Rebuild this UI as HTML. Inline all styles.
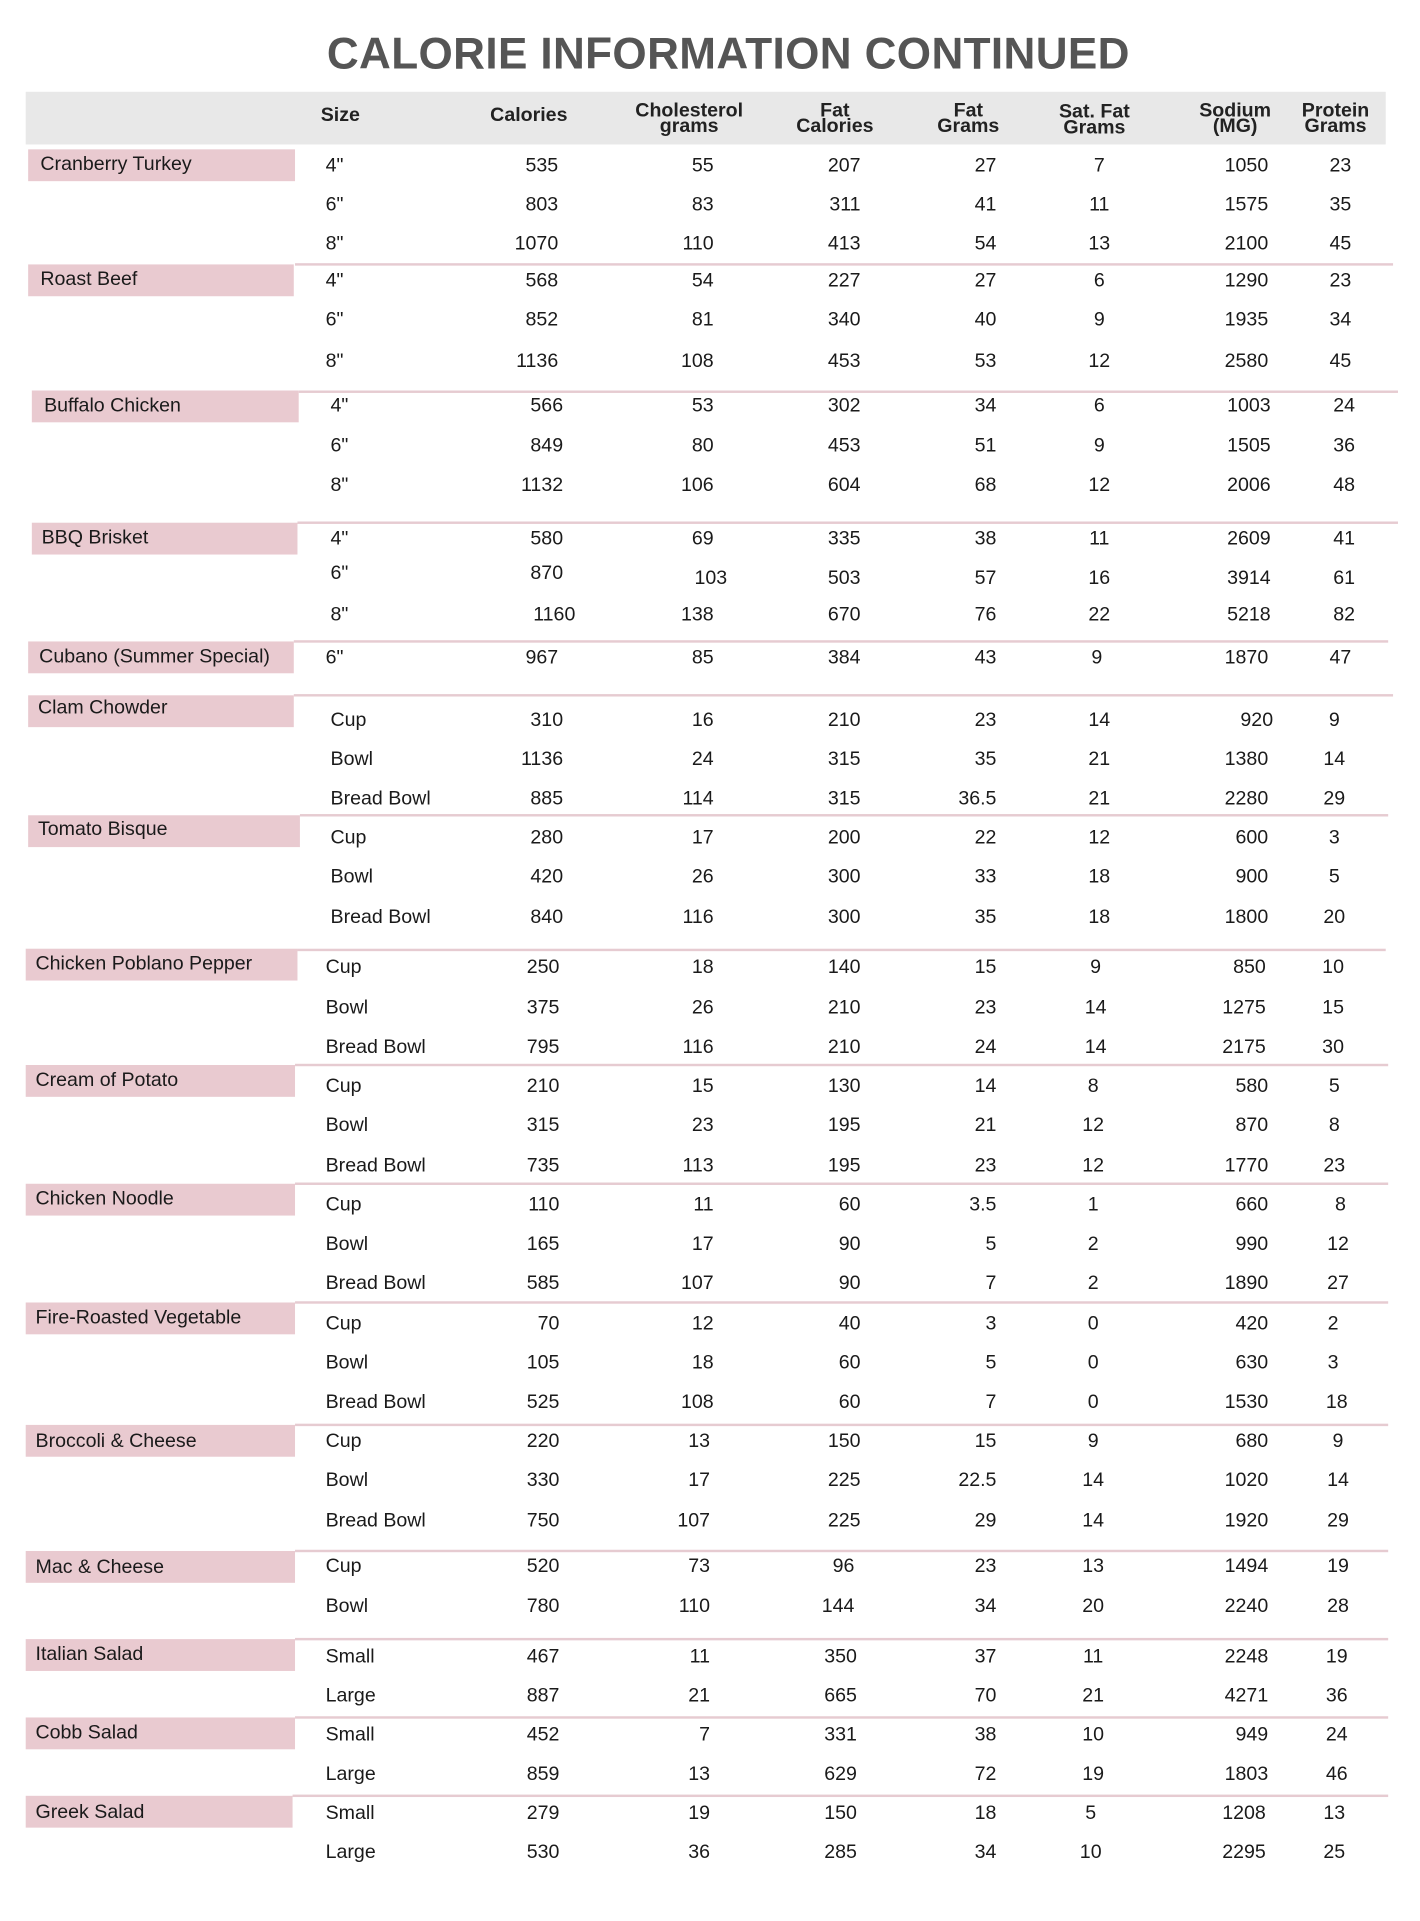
<!DOCTYPE html>
<html><head><meta charset="utf-8">
<style>
html,body{margin:0;padding:0;background:#fff;}
body{width:1420px;height:1920px;overflow:hidden;position:relative;}
#w{position:absolute;left:0;top:0;width:1160px;height:1569px;transform:scale(1.22414);transform-origin:0 0;font-family:"Liberation Sans Narrow","Liberation Sans",Arial,sans-serif;color:#1a1a1a;}
.t{position:absolute;left:0;width:1190px;text-align:center;top:23px;font:bold 36px "Liberation Sans",Arial,sans-serif;color:#555;letter-spacing:0.3px;}
.hb{position:absolute;left:21px;top:75px;width:1111px;height:43px;background:#e8e8e8;}
.h{position:absolute;font-weight:bold;font-size:16px;line-height:13px;text-align:center;width:120px;color:#222;}
.bx{position:absolute;height:26px;background:#e9cad0;font-size:16px;line-height:25px;padding-left:10px;box-sizing:border-box;}
.ln{position:absolute;height:2px;background:#e6cbd1;}
.r{position:absolute;left:0;width:1160px;height:20px;line-height:20px;font-size:16px;margin-top:2px;}
.r span{position:absolute;}
.a{left:266px}.b{right:704px}.c{right:577px}.d{right:457px}.e{right:346px}
.f{left:878px;width:40px;text-align:center}.g{right:124px}.h2{left:1075px;width:40px;text-align:center}
</style></head><body><div id="w">
<div class="t">CALORIE INFORMATION CONTINUED</div>
<div class="hb"></div>
<div class="h" style="left:218px;top:88px">Size</div>
<div class="h" style="left:372px;top:88px">Calories</div>
<div class="h" style="left:503px;top:84px">Cholesterol<br>grams</div>
<div class="h" style="left:622px;top:84px">Fat<br>Calories</div>
<div class="h" style="left:731px;top:84px">Fat<br>Grams</div>
<div class="h" style="left:834px;top:85px">Sat. Fat<br>Grams</div>
<div class="h" style="left:949px;top:84px">Sodium<br>(MG)</div>
<div class="h" style="left:1031px;top:84px">Protein<br>Grams</div>

<div class="ln" style="left:241px;top:215px;width:897px"></div>
<div class="ln" style="left:244px;top:319px;width:898px"></div>
<div class="ln" style="left:243px;top:426px;width:899px"></div>
<div class="ln" style="left:240px;top:523px;width:894px"></div>
<div class="ln" style="left:240px;top:567px;width:898px"></div>
<div class="ln" style="left:245px;top:665px;width:889px"></div>
<div class="ln" style="left:243px;top:775px;width:889px"></div>
<div class="ln" style="left:241px;top:869px;width:893px"></div>
<div class="ln" style="left:241px;top:966px;width:893px"></div>
<div class="ln" style="left:241px;top:1063px;width:893px"></div>
<div class="ln" style="left:241px;top:1163px;width:893px"></div>
<div class="ln" style="left:241px;top:1266px;width:893px"></div>
<div class="ln" style="left:241px;top:1338px;width:893px"></div>
<div class="ln" style="left:241px;top:1402px;width:893px"></div>
<div class="ln" style="left:239px;top:1466px;width:895px"></div>

<div class="bx" style="left:23px;top:122px;width:218px">Cranberry Turkey</div>
<div class="bx" style="left:23px;top:216px;width:217px">Roast Beef</div>
<div class="bx" style="left:26px;top:319px;width:218px">Buffalo Chicken</div>
<div class="bx" style="left:26px;top:427px;width:217px;padding-left:8px">BBQ Brisket</div>
<div class="bx" style="left:23px;top:524px;width:217px;padding-left:9px">Cubano (Summer Special)</div>
<div class="bx" style="left:23px;top:568px;width:217px;padding-left:8px;line-height:22px">Clam Chowder</div>
<div class="bx" style="left:23px;top:666px;width:222px;padding-left:8px;line-height:24px">Tomato Bisque</div>
<div class="bx" style="left:21px;top:775px;width:222px;padding-left:8px">Chicken Poblano Pepper</div>
<div class="bx" style="left:21px;top:870px;width:220px;padding-left:8px">Cream of Potato</div>
<div class="bx" style="left:21px;top:967px;width:220px;padding-left:8px">Chicken Noodle</div>
<div class="bx" style="left:21px;top:1064px;width:220px;padding-left:8px">Fire-Roasted Vegetable</div>
<div class="bx" style="left:21px;top:1164px;width:220px;padding-left:8px;line-height:28px">Broccoli &amp; Cheese</div>
<div class="bx" style="left:21px;top:1267px;width:220px;padding-left:8px;line-height:28px">Mac &amp; Cheese</div>
<div class="bx" style="left:21px;top:1339px;width:220px;padding-left:8px">Italian Salad</div>
<div class="bx" style="left:21px;top:1403px;width:220px;padding-left:8px">Cobb Salad</div>
<div class="bx" style="left:21px;top:1467px;width:218px;padding-left:8px;line-height:28px">Greek Salad</div>

<div class="r" style="top:124px"><span class="a">4"</span><span class="b">535</span><span class="c">55</span><span class="d">207</span><span class="e">27</span><span class="f">7</span><span class="g">1050</span><span class="h2">23</span></div>
<div class="r" style="top:156px"><span class="a">6"</span><span class="b">803</span><span class="c">83</span><span class="d">311</span><span class="e">41</span><span class="f">11</span><span class="g">1575</span><span class="h2">35</span></div>
<div class="r" style="top:188px"><span class="a">8"</span><span class="b">1070</span><span class="c">110</span><span class="d">413</span><span class="e">54</span><span class="f">13</span><span class="g">2100</span><span class="h2">45</span></div>

<div class="r" style="top:218px"><span class="a">4"</span><span class="b">568</span><span class="c">54</span><span class="d">227</span><span class="e">27</span><span class="f">6</span><span class="g">1290</span><span class="h2">23</span></div>
<div class="r" style="top:250px"><span class="a">6"</span><span class="b">852</span><span class="c">81</span><span class="d">340</span><span class="e">40</span><span class="f">9</span><span class="g">1935</span><span class="h2">34</span></div>
<div class="r" style="top:284px"><span class="a">8"</span><span class="b">1136</span><span class="c">108</span><span class="d">453</span><span class="e">53</span><span class="f">12</span><span class="g">2580</span><span class="h2">45</span></div>

<div class="r" style="top:320px"><span class="a" style="left:270px">4"</span><span class="b" style="right:700px">566</span><span class="c">53</span><span class="d">302</span><span class="e">34</span><span class="f">6</span><span class="g" style="right:122px">1003</span><span class="h2" style="left:1078px">24</span></div>
<div class="r" style="top:353px"><span class="a" style="left:270px">6"</span><span class="b" style="right:700px">849</span><span class="c">80</span><span class="d">453</span><span class="e">51</span><span class="f">9</span><span class="g" style="right:122px">1505</span><span class="h2" style="left:1078px">36</span></div>
<div class="r" style="top:385px"><span class="a" style="left:270px">8"</span><span class="b" style="right:700px">1132</span><span class="c">106</span><span class="d">604</span><span class="e">68</span><span class="f">12</span><span class="g" style="right:122px">2006</span><span class="h2" style="left:1078px">48</span></div>

<div class="r" style="top:429px"><span class="a" style="left:270px">4"</span><span class="b" style="right:700px">580</span><span class="c">69</span><span class="d">335</span><span class="e">38</span><span class="f">11</span><span class="g" style="right:122px">2609</span><span class="h2" style="left:1078px">41</span></div>
<div class="r" style="top:457px"><span class="a" style="left:270px">6"</span><span class="b" style="right:700px">870</span></div>
<div class="r" style="top:461px"><span class="c" style="right:566px">103</span><span class="d">503</span><span class="e">57</span><span class="f">16</span><span class="g" style="right:122px">3914</span><span class="h2" style="left:1078px">61</span></div>
<div class="r" style="top:491px"><span class="a" style="left:270px">8"</span><span class="b" style="right:690px">1160</span><span class="c">138</span><span class="d">670</span><span class="e">76</span><span class="f">22</span><span class="g" style="right:122px">5218</span><span class="h2" style="left:1078px">82</span></div>

<div class="r" style="top:526px"><span class="a">6"</span><span class="b">967</span><span class="c">85</span><span class="d">384</span><span class="e">43</span><span class="f" style="left:876px">9</span><span class="g">1870</span><span class="h2">47</span></div>

<div class="r" style="top:577px"><span class="a" style="left:270px">Cup</span><span class="b" style="right:700px">310</span><span class="c">16</span><span class="d">210</span><span class="e">23</span><span class="f">14</span><span class="g" style="right:120px">920</span><span class="h2" style="left:1070px">9</span></div>
<div class="r" style="top:609px"><span class="a" style="left:270px">Bowl</span><span class="b" style="right:700px">1136</span><span class="c">24</span><span class="d">315</span><span class="e">35</span><span class="f">21</span><span class="g">1380</span><span class="h2" style="left:1070px">14</span></div>
<div class="r" style="top:641px"><span class="a" style="left:270px">Bread Bowl</span><span class="b" style="right:700px">885</span><span class="c">114</span><span class="d">315</span><span class="e">36.5</span><span class="f">21</span><span class="g">2280</span><span class="h2" style="left:1070px">29</span></div>

<div class="r" style="top:673px"><span class="a" style="left:270px">Cup</span><span class="b" style="right:700px">280</span><span class="c">17</span><span class="d">200</span><span class="e">22</span><span class="f">12</span><span class="g">600</span><span class="h2" style="left:1070px">3</span></div>
<div class="r" style="top:705px"><span class="a" style="left:270px">Bowl</span><span class="b" style="right:700px">420</span><span class="c">26</span><span class="d">300</span><span class="e">33</span><span class="f">18</span><span class="g">900</span><span class="h2" style="left:1070px">5</span></div>
<div class="r" style="top:738px"><span class="a" style="left:270px">Bread Bowl</span><span class="b" style="right:700px">840</span><span class="c">116</span><span class="d">300</span><span class="e">35</span><span class="f">18</span><span class="g">1800</span><span class="h2" style="left:1070px">20</span></div>

<div class="r" style="top:779px"><span class="a">Cup</span><span class="b" style="right:703px">250</span><span class="c">18</span><span class="d">140</span><span class="e">15</span><span class="f" style="left:875px">9</span><span class="g" style="right:126px">850</span><span class="h2" style="left:1069px">10</span></div>
<div class="r" style="top:812px"><span class="a">Bowl</span><span class="b" style="right:703px">375</span><span class="c">26</span><span class="d">210</span><span class="e">23</span><span class="f" style="left:875px">14</span><span class="g" style="right:126px">1275</span><span class="h2" style="left:1069px">15</span></div>
<div class="r" style="top:844px"><span class="a">Bread Bowl</span><span class="b" style="right:703px">795</span><span class="c">116</span><span class="d">210</span><span class="e">24</span><span class="f" style="left:875px">14</span><span class="g" style="right:126px">2175</span><span class="h2" style="left:1069px">30</span></div>

<div class="r" style="top:876px"><span class="a">Cup</span><span class="b" style="right:703px">210</span><span class="c">15</span><span class="d">130</span><span class="e">14</span><span class="f" style="left:873px">8</span><span class="g">580</span><span class="h2" style="left:1070px">5</span></div>
<div class="r" style="top:908px"><span class="a">Bowl</span><span class="b" style="right:703px">315</span><span class="c">23</span><span class="d">195</span><span class="e">21</span><span class="f" style="left:873px">12</span><span class="g">870</span><span class="h2" style="left:1070px">8</span></div>
<div class="r" style="top:941px"><span class="a">Bread Bowl</span><span class="b" style="right:703px">735</span><span class="c">113</span><span class="d">195</span><span class="e">23</span><span class="f" style="left:873px">12</span><span class="g">1770</span><span class="h2" style="left:1070px">23</span></div>

<div class="r" style="top:973px"><span class="a">Cup</span><span class="b" style="right:703px">110</span><span class="c">11</span><span class="d">60</span><span class="e">3.5</span><span class="f" style="left:873px">1</span><span class="g">660</span><span class="h2" style="left:1075px">8</span></div>
<div class="r" style="top:1005px"><span class="a">Bowl</span><span class="b" style="right:703px">165</span><span class="c">17</span><span class="d">90</span><span class="e">5</span><span class="f" style="left:873px">2</span><span class="g">990</span><span class="h2" style="left:1073px">12</span></div>
<div class="r" style="top:1037px"><span class="a">Bread Bowl</span><span class="b" style="right:703px">585</span><span class="c">107</span><span class="d">90</span><span class="e">7</span><span class="f" style="left:873px">2</span><span class="g">1890</span><span class="h2" style="left:1073px">27</span></div>

<div class="r" style="top:1070px"><span class="a">Cup</span><span class="b" style="right:703px">70</span><span class="c">12</span><span class="d">40</span><span class="e">3</span><span class="f" style="left:873px">0</span><span class="g">420</span><span class="h2" style="left:1069px">2</span></div>
<div class="r" style="top:1102px"><span class="a">Bowl</span><span class="b" style="right:703px">105</span><span class="c">18</span><span class="d">60</span><span class="e">5</span><span class="f" style="left:873px">0</span><span class="g">630</span><span class="h2" style="left:1069px">3</span></div>
<div class="r" style="top:1134px"><span class="a">Bread Bowl</span><span class="b" style="right:703px">525</span><span class="c">108</span><span class="d">60</span><span class="e">7</span><span class="f" style="left:873px">0</span><span class="g">1530</span><span class="h2" style="left:1072px">18</span></div>

<div class="r" style="top:1166px"><span class="a">Cup</span><span class="b" style="right:703px">220</span><span class="c" style="right:580px">13</span><span class="d">150</span><span class="e">15</span><span class="f" style="left:873px">9</span><span class="g">680</span><span class="h2" style="left:1073px">9</span></div>
<div class="r" style="top:1198px"><span class="a">Bowl</span><span class="b" style="right:703px">330</span><span class="c" style="right:580px">17</span><span class="d">225</span><span class="e">22.5</span><span class="f" style="left:873px">14</span><span class="g">1020</span><span class="h2" style="left:1073px">14</span></div>
<div class="r" style="top:1231px"><span class="a">Bread Bowl</span><span class="b" style="right:703px">750</span><span class="c" style="right:580px">107</span><span class="d">225</span><span class="e">29</span><span class="f" style="left:873px">14</span><span class="g">1920</span><span class="h2" style="left:1073px">29</span></div>

<div class="r" style="top:1268px"><span class="a">Cup</span><span class="b" style="right:703px">520</span><span class="c" style="right:580px">73</span><span class="d" style="right:462px">96</span><span class="e">23</span><span class="f" style="left:873px">13</span><span class="g">1494</span><span class="h2" style="left:1073px">19</span></div>
<div class="r" style="top:1301px"><span class="a">Bowl</span><span class="b" style="right:703px">780</span><span class="c" style="right:580px">110</span><span class="d" style="right:462px">144</span><span class="e">34</span><span class="f" style="left:873px">20</span><span class="g">2240</span><span class="h2" style="left:1073px">28</span></div>

<div class="r" style="top:1342px"><span class="a">Small</span><span class="b" style="right:703px">467</span><span class="c" style="right:580px">11</span><span class="d" style="right:460px">350</span><span class="e">37</span><span class="f" style="left:873px">11</span><span class="g">2248</span><span class="h2" style="left:1072px">19</span></div>
<div class="r" style="top:1374px"><span class="a">Large</span><span class="b" style="right:703px">887</span><span class="c" style="right:580px">21</span><span class="d" style="right:460px">665</span><span class="e">70</span><span class="f" style="left:873px">21</span><span class="g">4271</span><span class="h2" style="left:1072px">36</span></div>

<div class="r" style="top:1406px"><span class="a">Small</span><span class="b" style="right:703px">452</span><span class="c" style="right:580px">7</span><span class="d" style="right:460px">331</span><span class="e">38</span><span class="f" style="left:873px">10</span><span class="g">949</span><span class="h2" style="left:1072px">24</span></div>
<div class="r" style="top:1438px"><span class="a">Large</span><span class="b" style="right:703px">859</span><span class="c" style="right:580px">13</span><span class="d" style="right:460px">629</span><span class="e">72</span><span class="f" style="left:873px">19</span><span class="g">1803</span><span class="h2" style="left:1072px">46</span></div>

<div class="r" style="top:1470px"><span class="a">Small</span><span class="b" style="right:703px">279</span><span class="c" style="right:580px">19</span><span class="d" style="right:460px">150</span><span class="e">18</span><span class="f" style="left:871px">5</span><span class="g" style="right:126px">1208</span><span class="h2" style="left:1070px">13</span></div>
<div class="r" style="top:1502px"><span class="a">Large</span><span class="b" style="right:703px">530</span><span class="c" style="right:580px">36</span><span class="d" style="right:460px">285</span><span class="e">34</span><span class="f" style="left:871px">10</span><span class="g" style="right:126px">2295</span><span class="h2" style="left:1070px">25</span></div>
</div></body></html>
